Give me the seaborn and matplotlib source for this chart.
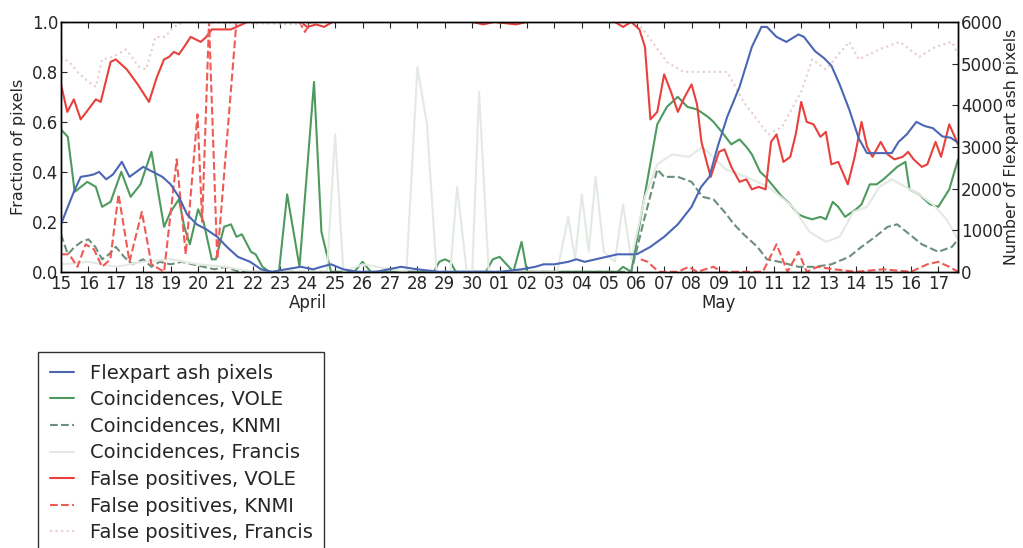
import numpy as np
import pandas as pd
import seaborn as sns
import matplotlib
matplotlib.use("Agg")
import matplotlib.pyplot as plt
import matplotlib.dates as mdates

start = pd.Timestamp("2010-04-15")
x_end = 32.72  # days after start

# (day offset from 15 April, value)
flexpart_pix = [
    (0.0, 1140), (0.25, 1560), (0.47, 1920), (0.72, 2280), (1.0, 2310), (1.2, 2340),
    (1.39, 2400), (1.65, 2220), (1.9, 2340), (2.22, 2640), (2.5, 2280), (2.75, 2400),
    (3.0, 2520), (3.35, 2400), (3.7, 2280), (4.0, 2100), (4.3, 1800), (4.6, 1380),
    (4.95, 1140), (5.3, 1020), (5.7, 840), (6.05, 600), (6.45, 360), (6.9, 240),
    (7.3, 60), (7.7, 0), (8.2, 60), (8.75, 120), (9.2, 60), (9.5, 120), (9.85, 180),
    (10.3, 60), (10.8, 0), (11.5, 0), (12.4, 120), (13.0, 60), (13.8, 0), (16.0, 0),
    (16.8, 60), (17.3, 120), (17.6, 180), (18.0, 180), (18.5, 240), (18.8, 300),
    (19.1, 240), (19.5, 300), (19.9, 360), (20.3, 420), (21.0, 420), (21.5, 600),
    (22.0, 840), (22.5, 1140), (23.0, 1560), (23.35, 2040), (23.65, 2280),
    (23.95, 3000), (24.3, 3720), (24.75, 4440), (25.2, 5400), (25.55, 5880),
    (25.75, 5880), (26.1, 5640), (26.46, 5520), (26.9, 5700), (27.1, 5640),
    (27.5, 5300), (27.85, 5120), (28.1, 4950), (28.4, 4500), (28.75, 3900),
    (29.1, 3200), (29.4, 2850), (30.3, 2850), (30.55, 3120), (30.85, 3300),
    (31.2, 3600), (31.5, 3500), (31.8, 3450), (32.15, 3250), (32.45, 3220), (32.72, 3100),
]

coinc_vole = [
    (0.0, 0.57), (0.25, 0.54), (0.5, 0.32), (0.96, 0.36), (1.27, 0.34), (1.5, 0.26),
    (1.81, 0.28), (2.2, 0.40), (2.54, 0.30), (2.9, 0.35), (3.3, 0.48), (3.76, 0.18),
    (4.0, 0.24), (4.3, 0.29), (4.5, 0.18), (4.7, 0.11), (5.0, 0.25), (5.2, 0.20),
    (5.5, 0.05), (5.65, 0.05), (5.95, 0.18), (6.2, 0.19), (6.4, 0.14), (6.6, 0.15),
    (6.93, 0.08), (7.1, 0.07), (7.35, 0.02), (7.6, 0.0), (7.95, 0.0), (8.25, 0.31),
    (8.7, 0.02), (9.23, 0.76), (9.5, 0.16), (9.85, 0.0), (10.7, 0.0), (11.0, 0.04),
    (11.3, 0.0), (13.6, 0.0), (13.8, 0.04), (14.0, 0.05), (14.2, 0.04), (14.4, 0.0),
    (15.5, 0.0), (15.75, 0.05), (16.0, 0.06), (16.25, 0.03), (16.5, 0.0), (16.8, 0.12),
    (17.0, 0.0), (20.3, 0.0), (20.5, 0.02), (20.8, 0.0), (21.25, 0.28), (21.75, 0.59),
    (22.1, 0.66), (22.5, 0.70), (22.85, 0.66), (23.2, 0.65), (23.6, 0.62), (23.8, 0.60),
    (24.1, 0.56), (24.45, 0.51), (24.75, 0.53), (25.0, 0.50), (25.2, 0.47), (25.5, 0.40),
    (25.7, 0.38), (26.0, 0.34), (26.3, 0.30), (26.6, 0.27), (26.9, 0.23), (27.1, 0.22),
    (27.4, 0.21), (27.7, 0.22), (27.9, 0.21), (28.15, 0.28), (28.35, 0.26), (28.6, 0.22),
    (29.0, 0.25), (29.2, 0.27), (29.5, 0.35), (29.75, 0.35), (30.0, 0.37), (30.2, 0.39),
    (30.5, 0.42), (30.8, 0.44), (30.95, 0.33), (31.3, 0.31), (31.7, 0.27), (32.0, 0.26),
    (32.4, 0.33), (32.72, 0.45),
]

coinc_knmi = [
    (0.0, 0.15), (0.25, 0.07), (0.5, 0.10), (0.75, 0.12), (1.0, 0.13), (1.25, 0.10),
    (1.5, 0.05), (1.75, 0.07), (2.0, 0.10), (2.3, 0.06), (2.6, 0.03), (3.0, 0.05),
    (3.3, 0.02), (3.6, 0.04), (4.0, 0.03), (4.4, 0.04), (4.8, 0.03), (5.2, 0.02),
    (5.6, 0.01), (6.0, 0.02), (6.5, 0.0), (20.8, 0.0), (21.25, 0.20), (21.75, 0.41),
    (22.0, 0.38), (22.5, 0.38), (23.0, 0.36), (23.4, 0.30), (23.8, 0.29), (24.2, 0.24),
    (24.55, 0.19), (24.9, 0.15), (25.4, 0.10), (25.75, 0.05), (26.2, 0.04), (26.9, 0.02),
    (27.5, 0.02), (28.1, 0.03), (28.75, 0.06), (29.2, 0.10), (29.7, 0.14), (30.15, 0.18),
    (30.5, 0.19), (30.95, 0.15), (31.4, 0.11), (32.0, 0.08), (32.5, 0.10), (32.72, 0.13),
]

coinc_francis = [
    (0.0, 0.03), (1.0, 0.04), (2.0, 0.02), (3.0, 0.04), (4.0, 0.05), (5.0, 0.03),
    (6.0, 0.02), (7.0, 0.0), (9.7, 0.0), (10.0, 0.55), (10.3, 0.0), (11.0, 0.03),
    (12.6, 0.0), (13.0, 0.82), (13.35, 0.59), (13.7, 0.0), (14.2, 0.0), (14.45, 0.34),
    (14.8, 0.0), (15.0, 0.0), (15.25, 0.72), (15.6, 0.0), (18.1, 0.0), (18.5, 0.22),
    (18.75, 0.05), (19.0, 0.31), (19.25, 0.08), (19.5, 0.38), (19.8, 0.08), (20.2, 0.04),
    (20.5, 0.27), (20.8, 0.05), (21.3, 0.30), (21.75, 0.43), (22.3, 0.47), (22.9, 0.46),
    (23.4, 0.50), (24.25, 0.41), (25.0, 0.38), (25.8, 0.34), (26.7, 0.26), (27.3, 0.16),
    (27.9, 0.12), (28.4, 0.14), (28.9, 0.24), (29.4, 0.26), (29.85, 0.34), (30.3, 0.37),
    (30.8, 0.34), (31.3, 0.31), (31.8, 0.27), (32.3, 0.21), (32.72, 0.13),
]

fp_vole = [
    (0.0, 0.75), (0.23, 0.64), (0.47, 0.69), (0.72, 0.61), (1.0, 0.65), (1.27, 0.69),
    (1.45, 0.68), (1.81, 0.84), (2.0, 0.85), (2.4, 0.81), (2.8, 0.75), (3.21, 0.68),
    (3.5, 0.78), (3.76, 0.85), (3.94, 0.86), (4.12, 0.88), (4.3, 0.87), (4.49, 0.90),
    (4.73, 0.94), (5.1, 0.92), (5.3, 0.94), (5.5, 0.97), (6.2, 0.97), (6.6, 0.99),
    (6.8, 1.0), (8.7, 1.0), (9.0, 0.98), (9.3, 0.99), (9.6, 0.98), (9.9, 1.0),
    (15.0, 1.0), (15.4, 0.99), (15.8, 1.0), (16.6, 0.99), (17.0, 1.0), (20.2, 1.0),
    (20.5, 0.98), (20.8, 1.0), (21.1, 0.97), (21.3, 0.90), (21.5, 0.61), (21.75, 0.64),
    (22.0, 0.79), (22.25, 0.72), (22.5, 0.64), (22.75, 0.70), (23.0, 0.75), (23.2, 0.67),
    (23.36, 0.52), (23.55, 0.44), (23.7, 0.38), (24.0, 0.48), (24.2, 0.49), (24.45, 0.42),
    (24.75, 0.36), (25.0, 0.37), (25.2, 0.33), (25.45, 0.34), (25.7, 0.33), (25.9, 0.52),
    (26.1, 0.55), (26.35, 0.44), (26.6, 0.46), (26.8, 0.55), (27.0, 0.68), (27.2, 0.60),
    (27.45, 0.59), (27.7, 0.54), (27.9, 0.56), (28.1, 0.43), (28.35, 0.44), (28.7, 0.35),
    (28.95, 0.46), (29.2, 0.60), (29.4, 0.50), (29.6, 0.46), (29.9, 0.52), (30.15, 0.47),
    (30.4, 0.45), (30.7, 0.46), (30.9, 0.48), (31.1, 0.45), (31.4, 0.42), (31.6, 0.43),
    (31.9, 0.52), (32.1, 0.46), (32.4, 0.59), (32.72, 0.51),
]

# NaN marks a gap in the record
fp_knmi = [
    (0.0, 0.07), (0.3, 0.07), (0.6, 0.02), (0.9, 0.11), (1.2, 0.09), (1.5, 0.02),
    (1.8, 0.05), (2.1, 0.31), (2.5, 0.04), (2.95, 0.24), (3.3, 0.03), (3.76, 0.0),
    (4.22, 0.45), (4.55, 0.07), (4.98, 0.63), (5.15, 0.20), (5.4, 1.0), (5.7, 0.05),
    (6.4, 1.0), (8.7, 1.0), (8.9, 0.96), (9.1, 1.0), (20.8, 1.0), (20.95, np.nan),
    (21.15, 0.05), (21.4, 0.04), (21.8, 0.0), (22.5, 0.0), (22.9, 0.02), (23.2, 0.0),
    (23.8, 0.02), (24.1, 0.0), (25.6, 0.0), (26.1, 0.11), (26.5, 0.0), (26.9, 0.08),
    (27.2, 0.0), (27.6, 0.02), (28.2, 0.01), (29.0, 0.0), (30.0, 0.01), (31.0, 0.0),
    (31.6, 0.03), (32.0, 0.04), (32.4, 0.02), (32.72, 0.0),
]

fp_francis = [
    (0.0, 0.86), (0.3, 0.84), (0.6, 0.80), (1.0, 0.76), (1.27, 0.74), (1.5, 0.85),
    (1.9, 0.86), (2.37, 0.89), (2.85, 0.82), (3.1, 0.81), (3.45, 0.94), (3.8, 0.94),
    (4.1, 0.98), (4.5, 1.0), (9.0, 0.99), (9.3, 1.0), (21.0, 1.0), (21.3, 0.96),
    (22.1, 0.84), (22.7, 0.80), (23.5, 0.80), (24.3, 0.80), (24.9, 0.68), (25.8, 0.55),
    (26.3, 0.58), (27.0, 0.72), (27.4, 0.85), (27.9, 0.81), (28.75, 0.92), (29.1, 0.85),
    (29.85, 0.89), (30.6, 0.92), (31.3, 0.86), (31.9, 0.90), (32.5, 0.92), (32.72, 0.87),
]

day_ticks = list(range(0, 33))
month_labels = [("April", 9), ("May", 24)]


def to_frame(pairs):
    df = pd.DataFrame(pairs, columns=["day", "value"])
    df["seg"] = df["value"].isna().cumsum()
    df = df.dropna()
    df["time"] = start + pd.to_timedelta(df["day"], unit="D")
    return df


sns.set_style("ticks")
plt.rcParams["font.family"] = ["DejaVu Sans"]
plt.rcParams["font.size"] = 12

fig, ax = plt.subplots(figsize=(10.23, 5.48), dpi=100)
fig.subplots_adjust(left=0.0596, right=0.9365, top=0.96, bottom=0.504)
ax2 = ax.twinx()

lw = 1.5
series = [
    (coinc_vole, "#4e9a5e", "-", "Coincidences, VOLE"),
    (coinc_knmi, "#6b8f7a", "--", "Coincidences, KNMI"),
    (coinc_francis, "#e3eae3", "-", "Coincidences, Francis"),
    (fp_vole, "#e8403c", "-", "False positives, VOLE"),
    (fp_knmi, "#f05a55", "--", "False positives, KNMI"),
    (fp_francis, "#e8cccc", ":", "False positives, Francis"),
]
for pairs, col, ls, lab in series:
    df = to_frame(pairs)
    sns.lineplot(data=df, x="time", y="value", units="seg", ax=ax, color=col,
                 linestyle=ls, linewidth=lw, legend=False, estimator=None, sort=False)
    # one proxy entry per series for the legend
    ax.plot([], [], color=col, linestyle=ls, linewidth=lw, label=lab)

flex = to_frame(flexpart_pix)
sns.lineplot(data=flex, x="time", y="value", ax=ax2, color="#4a66b4", linewidth=lw,
             label="Flexpart ash pixels", legend=False, estimator=None, sort=False)

xmin = start
xmax = start + pd.to_timedelta(x_end, unit="D")
ax.set_xlim(xmin, xmax)
ax.set_ylim(0, 1)
ax2.set_ylim(0, 6000)
ax.set_yticks([0, 0.2, 0.4, 0.6, 0.8, 1.0])
ax.yaxis.set_major_formatter(matplotlib.ticker.FormatStrFormatter("%.1f"))
ax2.set_yticks(range(0, 6001, 1000))

ax.set_xticks([start + pd.Timedelta(days=d) for d in day_ticks])
ax.xaxis.set_major_formatter(mdates.DateFormatter("%d"))
for name, d in month_labels:
    ax.text(start + pd.Timedelta(days=d), -0.09, name, transform=ax.get_xaxis_transform(),
            ha="center", va="top", fontsize=12)

ax.set_xlabel("")
ax.set_ylabel("Fraction of pixels", fontsize=11.5, labelpad=4)
ax2.set_ylabel("Number of Flexpart ash pixels", fontsize=11.3, labelpad=1)
ax2.set_xlabel("")

ax.tick_params(axis="both", direction="in", top=True, length=4, labelsize=12, pad=2)
ax2.tick_params(axis="y", direction="in", length=4, labelsize=12, pad=2)
for a in (ax, ax2):
    for s in a.spines.values():
        s.set_color("black")
        s.set_linewidth(1.0)

h1, l1 = ax.get_legend_handles_labels()
h2, l2 = ax2.get_legend_handles_labels()
leg = fig.legend(h2 + h1, l2 + l1, loc="upper left",
                 bbox_to_anchor=(38 / 1023, 1 - 352 / 548), bbox_transform=fig.transFigure,
                 borderaxespad=0, borderpad=0.6, fontsize=14, labelspacing=0.39,
                 handlelength=1.25, handletextpad=0.8, fancybox=False, frameon=True,
                 edgecolor="#333333", framealpha=1)
leg.get_frame().set_linewidth(1.0)

fig.savefig("out.png", dpi=100)
